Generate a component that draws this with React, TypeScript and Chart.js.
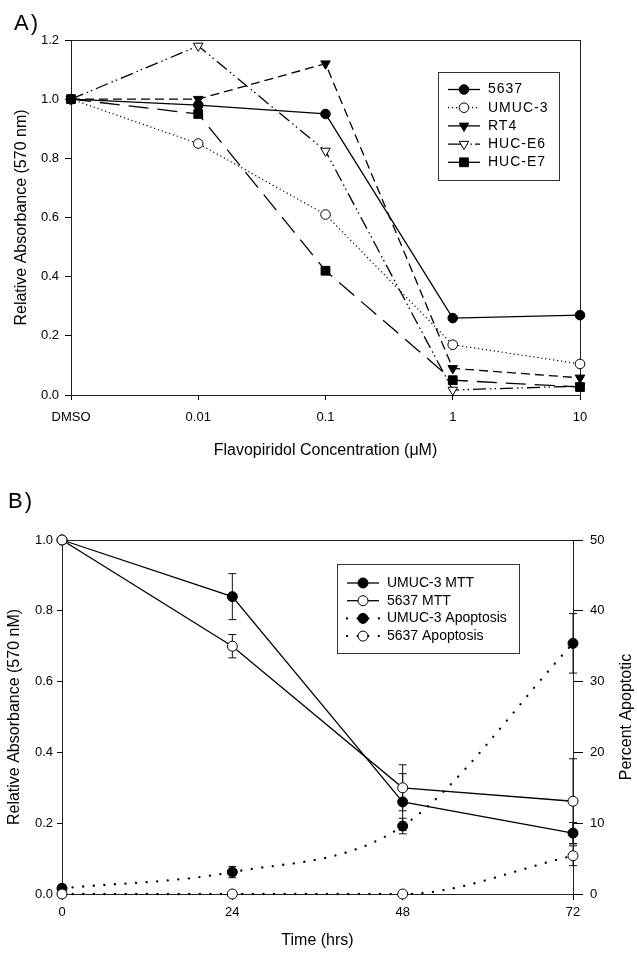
import React, { useEffect, useRef } from 'react';
import { Chart, registerables } from 'chart.js';
import { drawPoint } from 'chart.js/helpers';

Chart.register(...registerables);

// ---------- Panel A data ----------
const concLabels = ['DMSO', '0.01', '0.1', '1', '10'];
const s5637 = [1.0, 0.98, 0.95, 0.26, 0.27];
const sUMUC3 = [1.0, 0.85, 0.61, 0.17, 0.105];
const sRT4 = [1.0, 1.0, 1.12, 0.09, 0.058];
const sHUCE6 = [1.0, 1.18, 0.825, 0.017, 0.03];
const sHUCE7 = [1.0, 0.95, 0.42, 0.05, 0.027];

// ---------- Panel B data ----------
const timeHours = [0, 24, 48, 72];
const umucMTT = [1.0, 0.84, 0.26, 0.172];
const umucMTTErr = [0, 0.065, 0.08, 0.03];
const mtt5637 = [1.0, 0.70, 0.30, 0.262];
const mtt5637Err = [0, 0.033, 0.065, 0.12];
const umucApop = [0.8, 3.1, 9.6, 35.4];
const umucApopErr = [0.5, 0.8, 1.1, 4.2];
const apop5637 = [0, 0, 0, 5.4];
const apop5637Err = [0, 0, 0, 1.4];

const FONT = '"Liberation Sans", Arial, Helvetica, sans-serif';

const framePlugin = {
  id: 'frame',
  beforeDatasetsDraw(chart: any) {
    const { ctx, chartArea: a } = chart;
    ctx.save();
    ctx.strokeStyle = '#222';
    ctx.lineWidth = 1;
    ctx.strokeRect(Math.round(a.left) + 0.5, Math.round(a.top) + 0.5, Math.round(a.right - a.left), Math.round(a.bottom - a.top));
    ctx.restore();
  },
};

const errorBarPlugin = {
  id: 'errorBars',
  beforeDatasetsDraw(chart: any) {
    const ctx = chart.ctx;
    chart.data.datasets.forEach((ds: any, i: number) => {
      if (!ds.errors) return;
      const meta = chart.getDatasetMeta(i);
      const yScale = chart.scales[meta.yAxisID];
      meta.data.forEach((pt: any, j: number) => {
        const e = ds.errors[j];
        if (!e) return;
        const d = ds.data[j];
        const v = typeof d === 'number' ? d : d.y;
        const x = pt.x;
        const y1 = yScale.getPixelForValue(v + e);
        const y2 = yScale.getPixelForValue(v - e);
        ctx.save();
        ctx.strokeStyle = '#111';
        ctx.lineWidth = 1;
        ctx.beginPath();
        ctx.moveTo(x, y1);
        ctx.lineTo(x, y2);
        ctx.moveTo(x - 4, y1);
        ctx.lineTo(x + 4, y1);
        ctx.moveTo(x - 4, y2);
        ctx.lineTo(x + 4, y2);
        ctx.stroke();
        ctx.restore();
      });
    });
  },
};

const boxLegendPlugin = {
  id: 'boxLegend',
  afterDraw(chart: any, _args: any, opts: any) {
    if (!opts || !opts.box) return;
    const { ctx } = chart;
    const [bx, by, bw, bh] = opts.box;
    ctx.save();
    ctx.fillStyle = '#fff';
    ctx.fillRect(bx, by, bw, bh);
    ctx.strokeStyle = '#333';
    ctx.lineWidth = 1;
    ctx.strokeRect(bx + 0.5, by + 0.5, bw, bh);
    chart.data.datasets.forEach((ds: any, i: number) => {
      const cy = opts.firstRowY + i * opts.rowH;
      ctx.save();
      ctx.beginPath();
      ctx.setLineDash(ds.legendDash ?? ds.borderDash ?? []);
      ctx.lineCap = ds.borderCapStyle || 'butt';
      ctx.lineWidth = ds.borderWidth;
      ctx.strokeStyle = ds.borderColor;
      ctx.moveTo(opts.lineX0, cy);
      ctx.lineTo(opts.lineX1, cy);
      ctx.stroke();
      ctx.setLineDash([]);
      ctx.fillStyle = ds.pointBackgroundColor;
      ctx.strokeStyle = ds.pointBorderColor;
      ctx.lineWidth = ds.pointBorderWidth;
      drawPoint(ctx, {
        pointStyle: ds.pointStyle,
        rotation: ds.pointRotation || 0,
        radius: ds.pointRadius,
        borderWidth: ds.pointBorderWidth,
      } as any, (opts.lineX0 + opts.lineX1) / 2, cy);
      ctx.restore();
      ctx.save();
      ctx.fillStyle = '#000';
      ctx.font = opts.font;
      if (opts.letterSpacing) (ctx as any).letterSpacing = opts.letterSpacing;
      ctx.textBaseline = 'middle';
      ctx.textAlign = 'left';
      ctx.fillText(ds.label, opts.textX, cy);
      ctx.restore();
    });
    ctx.restore();
  },
};

const sideTitlePlugin = {
  id: 'sideTitle',
  afterDraw(chart: any, _args: any, opts: any) {
    if (!opts || !opts.text) return;
    const { ctx } = chart;
    ctx.save();
    ctx.translate(opts.x, opts.y);
    ctx.rotate(-Math.PI / 2);
    ctx.font = opts.font;
    ctx.fillStyle = '#000';
    ctx.textAlign = 'center';
    ctx.textBaseline = 'middle';
    ctx.fillText(opts.text, 0, 0);
    ctx.restore();
  },
};

const tickFont = { family: FONT, size: 13 };
const titleFont = { family: FONT, size: 16 };

function makeA(canvas: HTMLCanvasElement) {
  const base = {
    borderColor: '#000',
    borderWidth: 1.3,
    pointBorderColor: '#000',
    pointBorderWidth: 1,
    tension: 0,
    clip: false as any,
  };
  return new Chart(canvas, {
    type: 'line',
    data: {
      labels: concLabels,
      datasets: [
        { ...base, label: '5637', data: s5637, borderDash: [], pointStyle: 'circle', pointRadius: 4.8, pointBackgroundColor: '#000', order: 3 },
        { ...base, label: 'UMUC-3', data: sUMUC3, borderWidth: 1.2, borderDash: [1.2, 2.8], pointStyle: 'circle', pointRadius: 4.8, pointBackgroundColor: '#fff', order: 4 },
        { ...base, label: 'RT4', data: sRT4, borderDash: [9, 5], legendDash: [], pointStyle: 'triangle', pointRotation: 180, pointRadius: 5.5, pointBackgroundColor: '#000', order: 2 },
        { ...base, label: 'HUC-E6', data: sHUCE6, borderDash: [13, 4, 1.5, 3, 1.5, 4], legendDash: [14, 4, 1.5, 3, 1.5, 3], pointStyle: 'triangle', pointRotation: 180, pointRadius: 5.5, pointBackgroundColor: '#fff', order: 1 },
        { ...base, label: 'HUC-E7', data: sHUCE7, borderDash: [20, 9], legendDash: [], pointStyle: 'rect', pointRadius: 6.2, pointBackgroundColor: '#000', order: 0 },
      ] as any,
    },
    options: {
      responsive: false,
      animation: false,
      events: [],
      layout: { padding: { top: 40, right: 57, left: 0, bottom: 0 } },
      plugins: {
        legend: { display: false },
        tooltip: { enabled: false },
        boxLegend: { box: [438, 72, 121, 108], firstRowY: 89.5, rowH: 18.2, lineX0: 448, lineX1: 480, textX: 488, font: `14px ${FONT}`, letterSpacing: '1px' },
      } as any,
      scales: {
        x: {
          type: 'category',
          offset: false,
          grid: { drawOnChartArea: false, drawTicks: true, tickLength: 5, color: '#000' },
          border: { display: true, color: '#000', width: 1 },
          ticks: { color: '#000', font: tickFont, padding: 10, maxRotation: 0, autoSkip: false },
          title: { display: true, text: 'Flavopiridol Concentration (\u03bcM)', color: '#000', font: titleFont, padding: { top: 0, bottom: 10 } },
          afterFit: (s: any) => { s.height = 75; },
        },
        y: {
          min: 0,
          max: 1.2,
          grid: { drawOnChartArea: false, drawTicks: true, tickLength: 6, color: '#000' },
          border: { display: true, color: '#000', width: 1 },
          ticks: { stepSize: 0.2, color: '#000', font: tickFont, padding: 6, callback: (v: any) => Number(v).toFixed(1) },
          title: { display: true, text: 'Relative Absorbance (570 nm)', color: '#000', font: titleFont, padding: { top: 12, bottom: 0 } },
          afterFit: (s: any) => { s.width = 71; },
        },
      } as any,
    },
    plugins: [framePlugin, boxLegendPlugin],
  });
}

function makeB(canvas: HTMLCanvasElement) {
  const pts = (arr: number[]) => timeHours.map((t, i) => ({ x: t, y: arr[i] }));
  const solid = {
    borderColor: '#000',
    borderWidth: 1.3,
    pointBorderColor: '#000',
    pointBorderWidth: 1,
    pointStyle: 'circle',
    pointRadius: 5,
    tension: 0,
    clip: false as any,
    yAxisID: 'y',
  };
  const dotted = {
    ...solid,
    borderWidth: 2.3,
    borderDash: [0.1, 10.5],
    borderCapStyle: 'round',
    cubicInterpolationMode: 'monotone',
    yAxisID: 'y2',
  };
  return new Chart(canvas, {
    type: 'line',
    data: {
      datasets: [
        { ...solid, label: 'UMUC-3 MTT', data: pts(umucMTT), errors: umucMTTErr, pointBackgroundColor: '#000', order: 2 },
        { ...solid, label: '5637 MTT', data: pts(mtt5637), errors: mtt5637Err, pointBackgroundColor: '#fff', order: 1 },
        { ...dotted, label: 'UMUC-3 Apoptosis', data: pts(umucApop), errors: umucApopErr, pointBackgroundColor: '#000', order: 3 },
        { ...dotted, label: '5637 Apoptosis', data: pts(apop5637), errors: apop5637Err, pointBackgroundColor: '#fff', order: 0 },
      ] as any,
    },
    options: {
      responsive: false,
      animation: false,
      events: [],
      layout: { padding: { top: 70, right: 0, left: 0, bottom: 0 } },
      plugins: {
        legend: { display: false },
        tooltip: { enabled: false },
        boxLegend: { box: [337, 94, 182, 89], firstRowY: 113, rowH: 17.7, lineX0: 347, lineX1: 379, textX: 387, font: `14px ${FONT}` },
        sideTitle: { text: 'Percent Apoptotic', x: 627, y: 247, font: `16px ${FONT}` },
      } as any,
      scales: {
        x: {
          type: 'linear',
          min: 0,
          max: 72,
          grid: { drawOnChartArea: false, drawTicks: true, tickLength: 6, color: '#000' },
          border: { display: true, color: '#000', width: 1 },
          ticks: { stepSize: 24, color: '#000', font: tickFont, padding: 5, maxRotation: 0 },
          title: { display: true, text: 'Time (hrs)', color: '#000', font: titleFont, padding: { top: 0, bottom: 5 } },
          afterFit: (s: any) => { s.height = 61; },
        },
        y: {
          position: 'left',
          min: 0,
          max: 1.0,
          grid: { drawOnChartArea: false, drawTicks: true, tickLength: 5, color: '#000' },
          border: { display: true, color: '#000', width: 1 },
          ticks: { stepSize: 0.2, color: '#000', font: tickFont, padding: 4, callback: (v: any) => Number(v).toFixed(1) },
          title: { display: true, text: 'Relative Absorbance (570 nM)', color: '#000', font: titleFont, padding: { top: 5, bottom: 0 } },
          afterFit: (s: any) => { s.width = 62; },
        },
        y2: {
          position: 'right',
          min: 0,
          max: 50,
          grid: { drawOnChartArea: false, drawTicks: true, tickLength: 10, color: '#000' },
          border: { display: true, color: '#000', width: 1 },
          ticks: { stepSize: 10, color: '#000', font: tickFont, padding: 7 },
          title: { display: false },
          afterFit: (s: any) => { s.width = 64; },
        },
      } as any,
    },
    plugins: [framePlugin, errorBarPlugin, boxLegendPlugin, sideTitlePlugin],
  });
}

export default function App() {
  const refA = useRef<HTMLCanvasElement>(null);
  const refB = useRef<HTMLCanvasElement>(null);

  useEffect(() => {
    const a = makeA(refA.current!);
    const b = makeB(refB.current!);
    return () => {
      a.destroy();
      b.destroy();
    };
  }, []);

  const panelLabel: React.CSSProperties = {
    position: 'absolute',
    fontFamily: FONT,
    fontSize: 22,
    lineHeight: '22px',
    color: '#000',
    letterSpacing: 2,
  };

  return (
    <div style={{ position: 'absolute', left: 0, top: 0, width: 637, height: 955, background: '#fff', overflow: 'hidden' }}>
      <canvas ref={refA} width={637} height={470} style={{ position: 'absolute', left: 0, top: 0, width: 637, height: 470 }} />
      <canvas ref={refB} width={637} height={485} style={{ position: 'absolute', left: 0, top: 470, width: 637, height: 485 }} />
      <div style={{ ...panelLabel, left: 14, top: 12 }}>A)</div>
      <div style={{ ...panelLabel, left: 8, top: 490 }}>B)</div>
    </div>
  );
}
